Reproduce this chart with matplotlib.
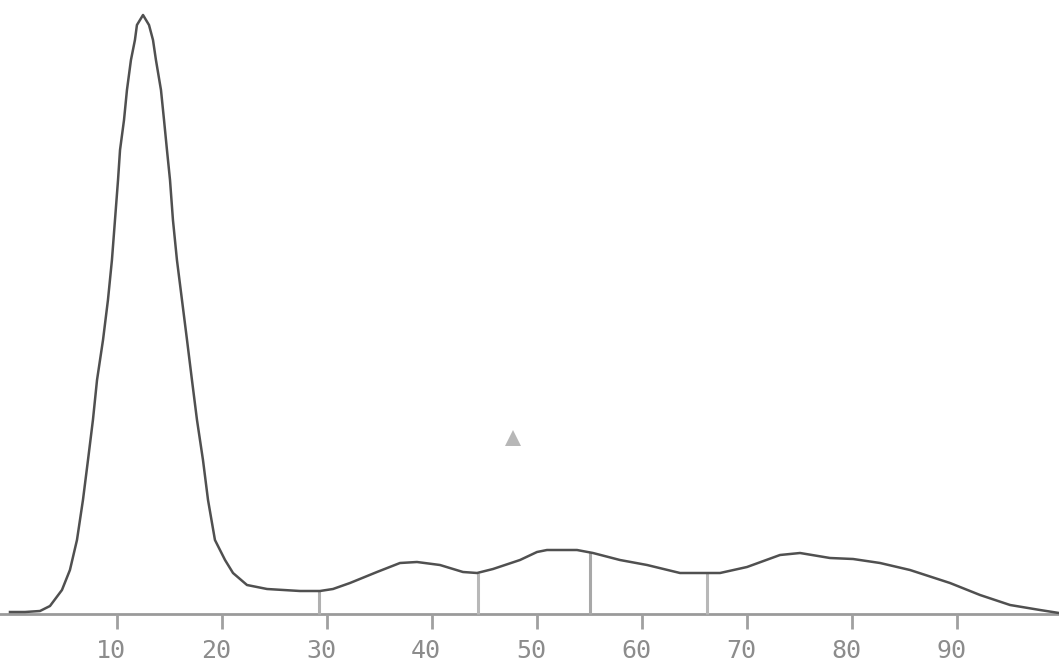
import numpy as np
import matplotlib
matplotlib.use('Agg')
import matplotlib.pyplot as plt

# trace (x position, signal height)
pos = [-0.19, 1.24, 2.67, 3.62, 4.76, 5.52, 6.19, 6.76, 7.24, 7.71, 8.10, 8.67,
       9.14, 9.52, 9.81, 10.10, 10.29, 10.67, 10.95, 11.33, 11.71, 11.90, 12.48,
       13.05, 13.43, 13.71, 14.19, 14.48, 14.76, 15.05, 15.33, 15.71, 16.19, 16.67,
       17.14, 17.62, 18.19, 18.67, 19.33, 20.29, 21.05, 22.38, 24.29, 27.43, 29.33,
       30.57, 32.19, 34.76, 36.95, 38.57, 40.76, 42.95, 44.29, 45.81, 48.38, 50.0,
       50.95, 53.81, 55.33, 57.90, 60.48, 63.62, 67.43, 70.0, 73.14, 75.05, 77.90,
       80.10, 82.67, 85.52, 89.33, 92.19, 95.05, 97.90, 99.71]
signal = [2, 2, 3, 8, 24, 44, 74, 114, 154, 194, 234, 274, 314, 354, 394, 434, 464,
          494, 524, 554, 574, 589, 599, 589, 574, 554, 524, 494, 464, 434, 394, 354,
          314, 274, 234, 194, 154, 114, 74, 54, 41, 29, 25, 23, 23, 25, 31, 42, 51,
          52, 49, 42, 41, 45, 54, 62, 64, 64, 61, 54, 49, 41, 41, 47, 59, 61, 56, 55,
          51, 44, 31, 19, 9, 4, 1]

cuts = [29.2, 44.4, 55.0, 66.2]
cut_colors = ['#b0b0b0', '#b8b8b8', '#a8a8a8', '#b8b8b8']
ticks = [10, 20, 30, 40, 50, 60, 70, 80, 90]
marker_pos = (47.7, 176)

fig = plt.figure(figsize=(10.59, 6.69), dpi=100)
ax = fig.add_axes([0, 0, 1, 1])
ax.set_xlim(-1.14, 99.71)
ax.set_ylim(-55, 614)
ax.axis('off')

# baseline and ticks
ax.axhline(0, color='#9a9a9a', linewidth=2, zorder=1)
ax.vlines(ticks, -15, 0, color='#a0a0a0', linewidth=2)
for t in ticks:
    ax.text(t - 0.55, -37, str(t), ha='center', va='center', fontsize=18,
            family='DejaVu Sans Mono', color='#8c8c8c')

# fraction dividers
for c, col in zip(cuts, cut_colors):
    top = np.interp(c, pos, signal)
    ax.vlines(c, 0, top, color=col, linewidth=2.2, zorder=2)

ax.plot(pos, signal, color='#505050', linewidth=1.8, zorder=3,
        solid_joinstyle='round')
ax.plot(*marker_pos, marker='^', markersize=11, color='#b0b0b0',
        markeredgewidth=0, alpha=0.9)

fig.savefig('out.png', dpi=100)
